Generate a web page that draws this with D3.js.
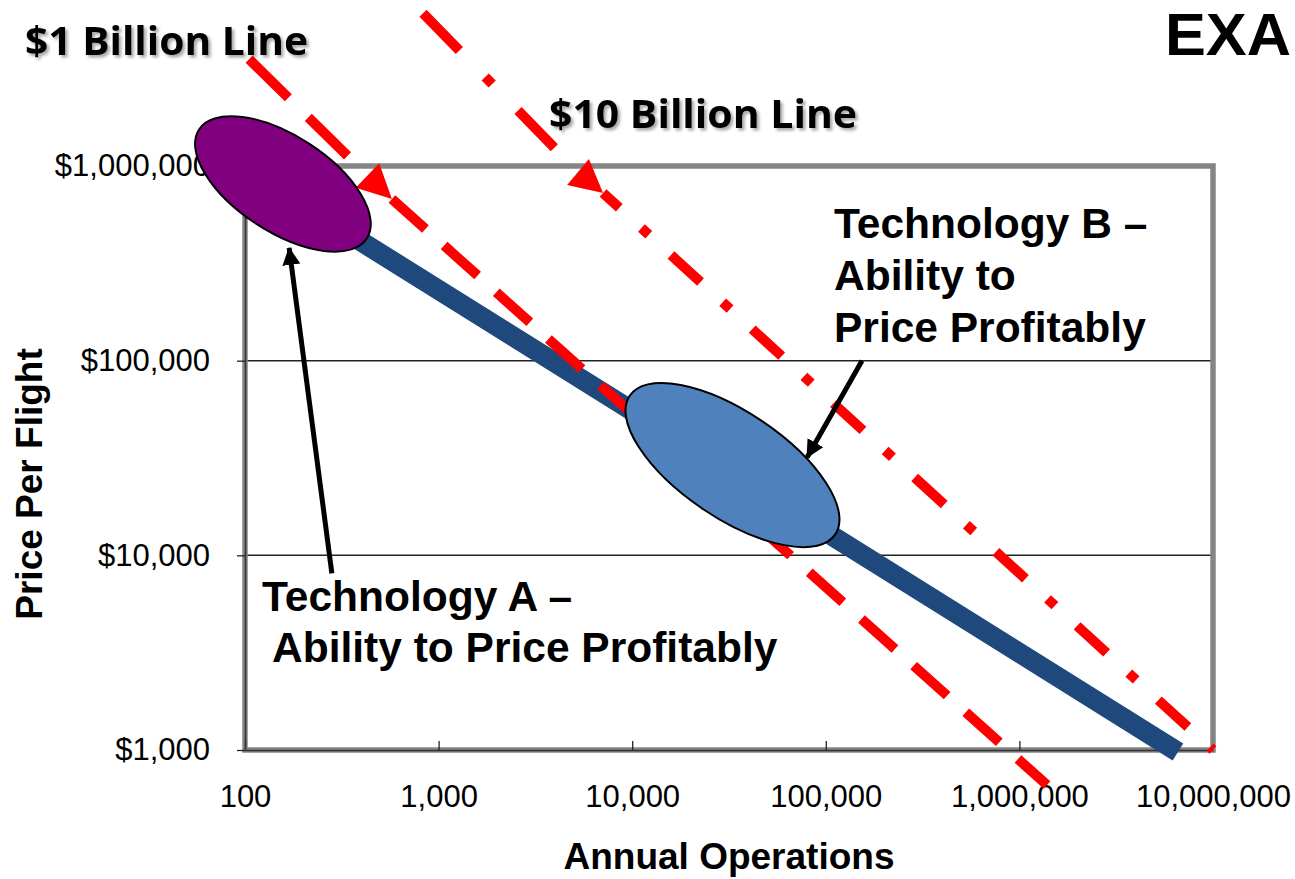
<!DOCTYPE html>
<html>
<head>
<meta charset="utf-8">
<script src="https://cdn.jsdelivr.net/npm/d3@7"></script>
<style>
  body { margin: 0; background: #fff; overflow: hidden; }
  svg { display: block; }
  text { font-family: Arial, "Liberation Sans", sans-serif; fill: #000; }
</style>
</head>
<body>
<svg id="chart"></svg>
<script>
var svgWidth = 1295;
var svgHeight = 879;

var margin = {
  top: 166,
  right: 82,
  bottom: 129,
  left: 245
};

var width = svgWidth - margin.left - margin.right;
var height = svgHeight - margin.top - margin.bottom;

// tick values + labels
var xTicks = [100, 1000, 10000, 100000, 1000000, 10000000];
var xTickLabels = ["100", "1,000", "10,000", "100,000", "1,000,000", "10,000,000"];
var yTicks = [1000, 10000, 100000, 1000000];
var yTickLabels = ["$1,000", "$10,000", "$100,000", "$1,000,000"];
var gridValues = [10000, 100000];

// price trend line (annual operations vs price per flight)
var trendOps = [100, 6590000];
var trendPrice = [966000, 977];

// $1 billion line: start, arrow base, arrow tip, end
var oneBillionOps = [105, 429, 574, 1389000];
var oneBillionPrice = [3537000, 894000, 677600, 661];

// $10 billion line: start, arrow base, arrow tip, end
var tenBillionOps = [831, 5250, 7070, 10000000];
var tenBillionPrice = [6090000, 931000, 727000, 1000];

// technology regions (centres)
var techNames = ["A", "B"];
var techOps = [157, 32960];
var techPrice = [809000, 29100];

// callout arrows: [from, to]
var calloutAOps = [281, 169];
var calloutAPrice = [8085, 379700];
var calloutBOps = [153800, 79980];
var calloutBPrice = [100000, 31810];

var svg = d3.select("#chart")
  .attr("width", svgWidth)
  .attr("height", svgHeight);

var defs = svg.append("defs");

var shadow = defs.append("filter")
  .attr("id", "shadow")
  .attr("x", "-10%").attr("y", "-30%")
  .attr("width", "130%").attr("height", "170%");
shadow.append("feDropShadow")
  .attr("dx", 2.5).attr("dy", 2.5)
  .attr("stdDeviation", 1.6)
  .attr("flood-color", "#000")
  .attr("flood-opacity", 0.35);

defs.append("marker")
  .attr("id", "blackArrow")
  .attr("markerUnits", "userSpaceOnUse")
  .attr("viewBox", "0 -10 20 20")
  .attr("refX", 17)
  .attr("refY", 0)
  .attr("markerWidth", 20)
  .attr("markerHeight", 20)
  .attr("orient", "auto")
  .append("path")
  .attr("d", "M0,-9 L18,0 L0,9 Z")
  .attr("fill", "#000");

var chartGroup = svg.append("g")
  .attr("transform", `translate(${margin.left}, ${margin.top})`);

var xScale = d3.scaleLog()
  .domain([100, 10000000])
  .range([0, width]);

var yScale = d3.scaleLog()
  .domain([1000, 1000000])
  .range([height, 0]);

// gridlines
chartGroup.selectAll(".grid")
  .data(gridValues)
  .enter()
  .append("line")
  .attr("x1", 0)
  .attr("x2", width)
  .attr("y1", d => yScale(d))
  .attr("y2", d => yScale(d))
  .attr("stroke", "#222")
  .attr("stroke-width", 1.5);

// plot frame
chartGroup.append("rect")
  .attr("x", 0)
  .attr("y", 0)
  .attr("width", width)
  .attr("height", height)
  .attr("fill", "none")
  .attr("stroke", "#858585")
  .attr("stroke-width", 5.5);

// axes
var bottomAxis = d3.axisBottom(xScale)
  .tickValues(xTicks)
  .tickSizeInner(-9)
  .tickSizeOuter(0)
  .tickPadding(35)
  .tickFormat((d, i) => xTickLabels[i]);

var leftAxis = d3.axisLeft(yScale)
  .tickValues(yTicks)
  .tickSizeInner(8)
  .tickSizeOuter(0)
  .tickPadding(27)
  .tickFormat((d, i) => yTickLabels[i]);

var xAxis = chartGroup.append("g")
  .attr("transform", `translate(0, ${height})`)
  .call(bottomAxis);

var yAxis = chartGroup.append("g")
  .call(leftAxis);

[xAxis, yAxis].forEach(function(ax) {
  ax.select(".domain").attr("stroke", "#333").attr("stroke-width", 1.5);
  ax.selectAll(".tick line").attr("stroke", "#222").attr("stroke-width", 1.3);
  ax.selectAll(".tick text")
    .attr("fill", "#000")
    .style("font-size", "31px")
    .style("font-family", "Arial, 'Liberation Sans', sans-serif");
});
// remove the tick sitting on the right border
xAxis.selectAll(".tick line").filter(d => d === 10000000).remove();
yAxis.selectAll(".tick line").filter(d => d === 1000000).remove();

// trend line
var lineGen = d3.line()
  .x(d => xScale(d[0]))
  .y(d => yScale(d[1]));

var trendPts = d3.zip(trendOps, trendPrice);
chartGroup.append("path")
  .attr("d", lineGen(trendPts))
  .attr("fill", "none")
  .attr("stroke", "#1F497D")
  .attr("stroke-width", 20);

// red revenue lines
function drawRevenueLine(opsArr, priceArr, upperDash, lowerDash, lowerOffset) {
  var pts = d3.zip(opsArr, priceArr);
  chartGroup.append("path")
    .attr("d", lineGen([pts[0], pts[1]]))
    .attr("fill", "none")
    .attr("stroke", "#FF0000")
    .attr("stroke-width", 10)
    .attr("stroke-dasharray", upperDash);

  chartGroup.append("path")
    .attr("d", lineGen([pts[2], pts[3]]))
    .attr("fill", "none")
    .attr("stroke", "#FF0000")
    .attr("stroke-width", 10)
    .attr("stroke-dasharray", lowerDash)
    .attr("stroke-dashoffset", lowerOffset);

  // arrow head between the two pieces
  var bx = xScale(pts[1][0]), by = yScale(pts[1][1]);
  var tx = xScale(pts[2][0]), ty = yScale(pts[2][1]);
  var len = Math.hypot(tx - bx, ty - by);
  var nx = -(ty - by) / len, ny = (tx - bx) / len;
  var half = 17;
  chartGroup.append("polygon")
    .attr("points", [
      [bx + nx * half, by + ny * half],
      [bx - nx * half, by - ny * half],
      [tx, ty]
    ].map(p => p.join(",")).join(" "))
    .attr("fill", "#FF0000");
}

drawRevenueLine(oneBillionOps, oneBillionPrice, "55,28", "45,25", 0);
drawRevenueLine(tenBillionOps, tenBillionPrice, "52,37,10,37", "40,30,10,30", 18);

// technology ellipses
var techStyle = {
  A: { fill: "#800080", rx: 100, ry: 48, angle: 33 },
  B: { fill: "#4F81BD", rx: 124, ry: 53, angle: 34 }
};

chartGroup.selectAll(".tech")
  .data(techNames)
  .enter()
  .append("ellipse")
  .attr("class", "tech")
  .attr("transform", (d, i) =>
    `translate(${xScale(techOps[i])}, ${yScale(techPrice[i])}) rotate(${techStyle[d].angle})`)
  .attr("rx", d => techStyle[d].rx)
  .attr("ry", d => techStyle[d].ry)
  .attr("fill", d => techStyle[d].fill)
  .attr("stroke", "#000")
  .attr("stroke-width", 2);

// callout arrows
[[calloutAOps, calloutAPrice], [calloutBOps, calloutBPrice]].forEach(function(c) {
  chartGroup.append("path")
    .attr("d", lineGen(d3.zip(c[0], c[1])))
    .attr("stroke", "#000")
    .attr("stroke-width", 5)
    .attr("fill", "none")
    .attr("marker-end", "url(#blackArrow)");
});

// text annotations
function addText(x, y, str, size, opts) {
  opts = opts || {};
  var t = svg.append("text")
    .attr("x", x)
    .attr("y", y)
    .style("font-size", size + "px")
    .style("font-weight", "bold")
    .text(str);
  if (opts.family) t.style("font-family", opts.family);
  if (opts.length) t.attr("textLength", opts.length).attr("lengthAdjust", "spacingAndGlyphs");
  if (opts.filter) t.attr("filter", opts.filter);
  return t;
}

addText(25, 55, "$1 Billion Line", 40,
  { family: "'Open Sans', sans-serif", length: 283, filter: "url(#shadow)" });
addText(549, 128, "$10 Billion Line", 40,
  { family: "'Open Sans', sans-serif", length: 308, filter: "url(#shadow)" });

// banner word at the top right corner
addText(1165, 55, "EXA", 60, { length: 126 });

addText(834, 238, "Technology B \u2013", 42.5);
addText(834, 290, "Ability to", 42.5);
addText(834, 342, "Price Profitably", 42.5);

addText(262, 611, "Technology A \u2013", 42.5);
addText(272, 662, "Ability to Price Profitably", 42.5);

// axis titles
svg.append("text")
  .attr("transform", "translate(42, 484) rotate(-90)")
  .attr("text-anchor", "middle")
  .style("font-size", "37px")
  .style("font-weight", "bold")
  .text("Price Per Flight");

svg.append("text")
  .attr("x", margin.left + width / 2)
  .attr("y", 869)
  .attr("text-anchor", "middle")
  .style("font-size", "37px")
  .style("font-weight", "bold")
  .text("Annual Operations");
</script>
</body>
</html>
